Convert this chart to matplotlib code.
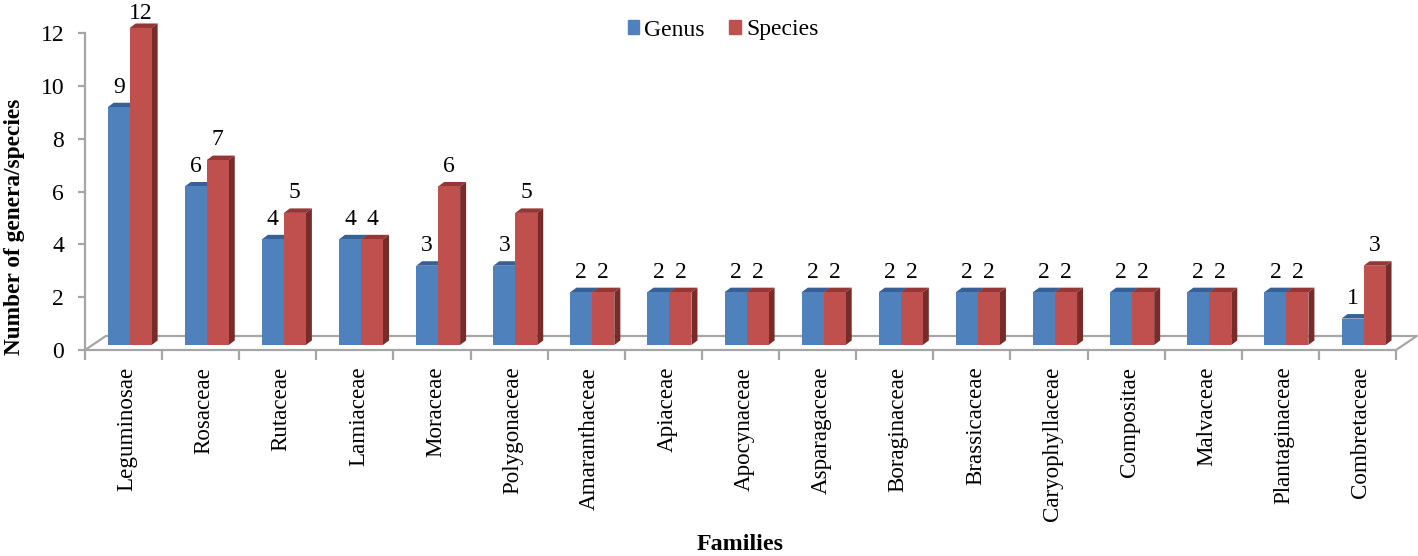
import numpy as np
import matplotlib
matplotlib.use("Agg")
from matplotlib import pyplot as plt
from matplotlib.patches import Patch

plt.rcParams['font.family'] = ['Liberation Serif', 'DejaVu Serif']

families = ['Leguminosae', 'Rosaceae', 'Rutaceae', 'Lamiaceae', 'Moraceae', 'Polygonaceae',
            'Amaranthaceae', 'Apiaceae', 'Apocynaceae', 'Asparagaceae', 'Boraginaceae',
            'Brassicaceae', 'Caryophyllaceae', 'Compositae', 'Malvaceae', 'Plantaginaceae',
            'Combretaceae']
genus = [9, 6, 4, 4, 3, 3, 2, 2, 2, 2, 2, 2, 2, 2, 2, 2, 1]
species = [12, 7, 5, 4, 6, 5, 2, 2, 2, 2, 2, 2, 2, 2, 2, 2, 3]

W, H = 1418, 556
fig = plt.figure(figsize=(W / 100, H / 100), dpi=100)
ax = fig.add_axes([85 / W, (H - 350) / H, (1396 - 85) / W, 317 / H])

x = np.arange(len(families))
bar_w = 0.285
# fake 3d depth, in data units
dx, dy = 0.078, 0.17
floor = 0.19
grey = '#a6a6a6'

ax.set_xlim(-0.5, len(families) - 0.5)
ax.set_ylim(0, 12)


def bars3d(left, vals, front, top, side, z):
    ax.bar(left, vals, bar_w, bottom=floor, align='edge', color=front, linewidth=0, zorder=z + 0.2,
           clip_on=False)
    for l, v in zip(left, vals):
        t = v + floor
        ax.fill([l, l + dx, l + bar_w + dx, l + bar_w], [t, t + dy, t + dy, t],
                color=top, lw=0, zorder=z, clip_on=False)
        ax.fill([l + bar_w, l + bar_w + dx, l + bar_w + dx, l + bar_w],
                [floor, floor + dy, t + dy, t], color=side, lw=0, zorder=z, clip_on=False)


# floor of the 3d box
depth_x, depth_y = 0.27, 0.53
end = len(families) - 0.5
ax.plot([-0.5, -0.5 + depth_x, end + depth_x, end], [0, depth_y, depth_y, 0],
        color=grey, lw=1.6, clip_on=False, zorder=1)

bars3d(x - 0.206, genus, '#4f81bd', '#376096', '#2f5f8f', 3)
bars3d(x + 0.079, species, '#c0504d', '#953735', '#772c2a', 4)

for i in x:
    # the 12 label sits a bit lower so it stays on the page
    ax.text(i - 0.0635, min(genus[i] + floor + 0.76, 12.75), str(genus[i]), ha='center', va='center',
            fontsize=17, color='black', zorder=6, clip_on=False)
    ax.text(i + 0.2215, min(species[i] + floor + 0.76, 12.75), str(species[i]), ha='center', va='center',
            fontsize=17, color='black', zorder=6, clip_on=False)

for s in ['top', 'right']:
    ax.spines[s].set_visible(False)
for s in ['left', 'bottom']:
    ax.spines[s].set_color(grey)
    ax.spines[s].set_linewidth(1.6)

ax.set_yticks(np.arange(0, 13, 2))
ax.tick_params(axis='y', length=5, width=1.6, color=grey, labelsize=17, pad=10)
ax.set_xticks(np.arange(len(families) + 1) - 0.5)
ax.set_xticklabels([])
ax.tick_params(axis='x', length=7, width=1.6, color=grey)
for i, f in zip(x, families):
    ax.annotate(f, (i, 0), xycoords=('data', 'axes fraction'), xytext=(2.5, -12),
                textcoords='offset points', rotation=90, ha='center', va='top', fontsize=16.6)

fig.text(15 / W, 1 - 227 / H, 'Number of genera/species', rotation=90, ha='center', va='center',
         fontsize=16.8, fontweight='bold')
fig.text(740 / W, 1 - 545 / H, 'Families', ha='center', va='center', fontsize=17.3, fontweight='bold')

handles = [Patch(color='#4f81bd', label='Genus'), Patch(color='#c0504d', label='Species')]
fig.legend(handles=handles, loc='center', bbox_to_anchor=(723 / W, 1 - 30 / H), ncol=2, frameon=False,
           fontsize=17, handlelength=0.5, handleheight=0.5, handletextpad=0.2, columnspacing=1.05)

fig.savefig('out.png', dpi=100)
